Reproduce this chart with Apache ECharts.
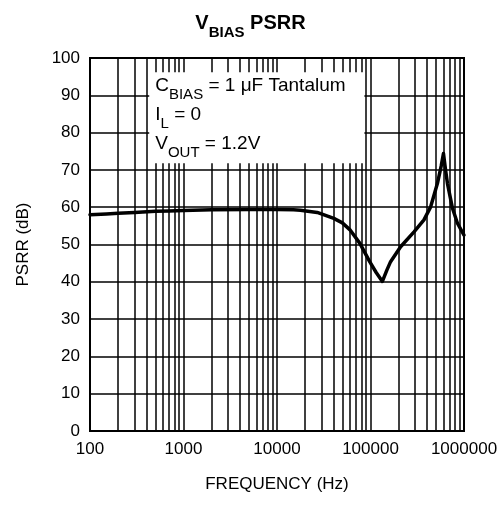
<!DOCTYPE html>
<html>
<head>
<meta charset="utf-8">
<script src="https://cdn.jsdelivr.net/npm/echarts@6/dist/echarts.min.js"></script>
<style>
html,body{margin:0;padding:0;background:#fff;}
#c{width:501px;height:508px;}
</style>
</head>
<body>
<div id="c"></div>
<script>
// Data
const freqHz = [100, 150, 200, 300, 500, 700, 1000, 2000, 5000, 10000, 15000, 17800, 26900, 40500, 50000, 60000, 77000, 98000, 115000, 134000, 150000, 164000, 210000, 292000, 373000, 440000, 520000, 570000, 603000, 635000, 665000, 753000, 851000, 1000000];
const psrrDb = [58.0, 58.2, 58.4, 58.6, 58.9, 59.0, 59.1, 59.3, 59.4, 59.4, 59.3, 59.2, 58.6, 57.0, 55.8, 54.0, 50.3, 45.4, 42.5, 40.1, 43.2, 45.4, 49.4, 53.4, 56.6, 60.1, 66.4, 71.0, 74.4, 70.0, 66.4, 59.7, 55.7, 52.5];
const xTickLabels = ['100', '1000', '10000', '100000', '1000000'];
const yTicks = [0, 10, 20, 30, 40, 50, 60, 70, 80, 90, 100];
// minor (2..9 per decade) vertical grid positions
const minorGrid = [];
for (let d = 100; d < 1000000; d *= 10) {
  for (let k = 2; k <= 9; k++) minorGrid.push(d * k);
}
// annotation box extent (data units)
const boxFreq = [430, 86000];
const boxDb = [96.2, 71.8];

const FONT = "'Liberation Sans', Arial, Helvetica, sans-serif";
const chart = echarts.init(document.getElementById('c'), null, {renderer: 'canvas'});
chart.setOption({
  animation: false,
  backgroundColor: '#fff',
  title: {
    text: '{a|V}{b|BIAS}{a| PSRR}',
    left: 'center',
    top: 4,
    textStyle: {
      rich: {
        a: {fontFamily: FONT, fontSize: 20, fontWeight: 'bold', color: '#000', verticalAlign: 'bottom', lineHeight: 24},
        b: {fontFamily: FONT, fontSize: 15, fontWeight: 'bold', color: '#000', verticalAlign: 'bottom', lineHeight: 24, padding: [0,0,-7,0]}
      }
    }
  },
  grid: {
    left: 90, right: 37, top: 58, bottom: 77,
    show: true, borderColor: '#000', borderWidth: 2, backgroundColor: '#fff'
  },
  xAxis: {
    type: 'log', logBase: 10, min: 100, max: 1000000,
    name: 'FREQUENCY (Hz)', nameLocation: 'middle', nameGap: 45,
    nameTextStyle: {fontFamily: FONT, fontSize: 17, color: '#000'},
    axisLine: {lineStyle: {color: '#000', width: 2}},
    axisTick: {show: false},
    axisLabel: {
      fontFamily: FONT, fontSize: 17, color: '#000', margin: 10,
      formatter: function (v) {
        const i = Math.round(Math.log10(v)) - 2;
        return xTickLabels[i] !== undefined ? xTickLabels[i] : '';
      }
    },
    splitLine: {show: true, lineStyle: {color: '#000', width: 1.5}}
  },
  yAxis: {
    type: 'value', min: yTicks[0], max: yTicks[yTicks.length - 1], interval: 10,
    name: 'PSRR (dB)', nameLocation: 'middle', nameGap: 58,
    nameTextStyle: {fontFamily: FONT, fontSize: 17, color: '#000'},
    axisLine: {show: true, lineStyle: {color: '#000', width: 2}},
    axisTick: {show: false},
    axisLabel: {fontFamily: FONT, fontSize: 17, color: '#000', margin: 10},
    splitLine: {show: true, lineStyle: {color: '#000', width: 1.5}}
  },
  series: [
    {
      type: 'line', data: [], silent: true,
      markLine: {
        z: 3, silent: true, symbol: ['none', 'none'],
        label: {show: false},
        lineStyle: {color: '#000', width: 1.5, type: 'solid'},
        emphasis: {disabled: true},
        data: minorGrid.map(f => ({xAxis: f}))
      }
    },
    {
      type: 'line', data: [], silent: true,
      markArea: {
        z: 6, silent: true,
        itemStyle: {color: '#fff', opacity: 1},
        label: {
          show: true, position: 'insideTopLeft', distance: 0, offset: [6, -6],
          formatter: '{n|C}{s|BIAS}{n| = 1 μF Tantalum}\n{n|I}{s|L}{n| = 0}\n{n|V}{s|OUT}{n| = 1.2V}',
          rich: {
            n: {fontFamily: FONT, fontSize: 19, color: '#000', lineHeight: 29, verticalAlign: 'bottom'},
            s: {fontFamily: FONT, fontSize: 15, color: '#000', lineHeight: 29, verticalAlign: 'bottom', padding: [0,0,-7,0]}
          }
        },
        data: [[{xAxis: boxFreq[0], yAxis: boxDb[0]}, {xAxis: boxFreq[1], yAxis: boxDb[1]}]]
      }
    },
    {
      type: 'line', z: 10, silent: true,
      data: freqHz.map((f, i) => [f, psrrDb[i]]),
      showSymbol: false, smooth: false,
      lineStyle: {color: '#000', width: 3.5, join: 'round', cap: 'round'}
    }
  ]
});
</script>
</body>
</html>
